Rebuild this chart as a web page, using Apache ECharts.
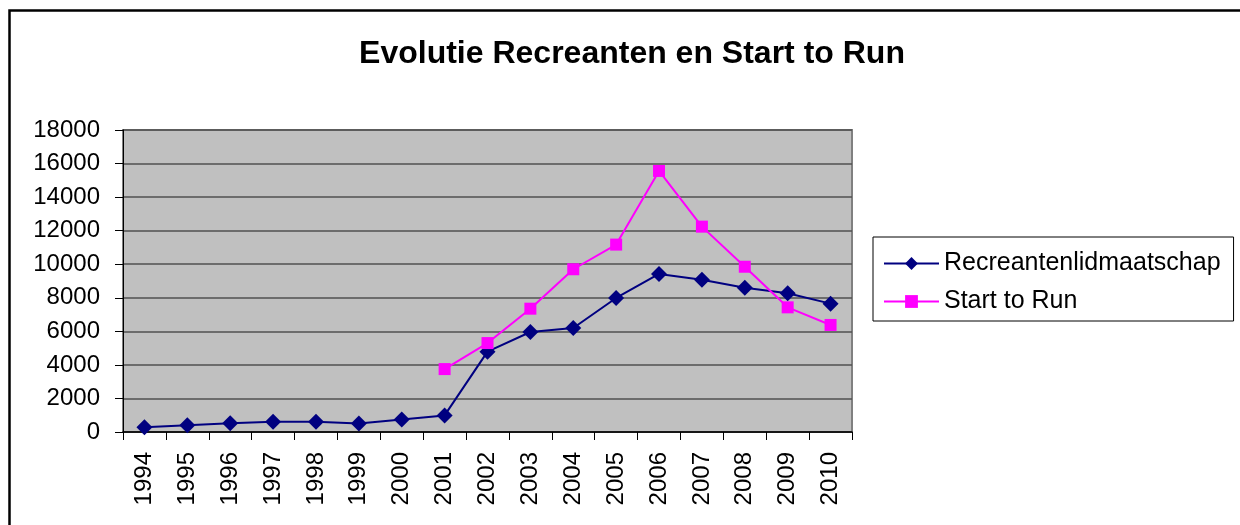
<!DOCTYPE html>
<html>
<head>
<meta charset="utf-8">
<script src="https://cdn.jsdelivr.net/npm/echarts@6/dist/echarts.min.js"></script>
<style>
html,body{margin:0;padding:0;background:#fff;}
#chart{width:1240px;height:525px;}
</style>
</head>
<body>
<div id="chart"></div>
<script>
const years = ['1994','1995','1996','1997','1998','1999','2000','2001','2002','2003','2004','2005','2006','2007','2008','2009','2010'];
const recreanten = [280, 400, 520, 610, 610, 500, 740, 990, 4790, 5960, 6200, 7990, 9420, 9080, 8600, 8270, 7650];
const startToRun = [null, null, null, null, null, null, null, 3750, 5300, 7350, 9700, 11170, 15560, 12240, 9850, 7430, 6380];
const yTicks = { min: 0, max: 18000, interval: 2000 };
const titleText = 'Evolutie Recreanten en Start to Run';
const seriesNames = ['Recreantenlidmaatschap', 'Start to Run'];

const font = '"Liberation Sans", Arial, sans-serif';
const chart = echarts.init(document.getElementById('chart'), null, { renderer: 'canvas' });
chart.setOption({
  animation: false,
  backgroundColor: '#ffffff',
  title: {
    text: titleText,
    left: 627,
    textAlign: 'center',
    top: 33,
    textStyle: { fontFamily: font, fontSize: 32, fontWeight: 'bold', color: '#000' }
  },
  legend: {
    orient: 'vertical',
    left: 873,
    top: 237,
    padding: [14, 13, 7, 10],
    itemGap: 13,
    itemWidth: 55,
    itemHeight: 16,
    borderColor: '#000',
    borderWidth: 1,
    backgroundColor: '#fff',
    textStyle: { fontFamily: font, fontSize: 25, color: '#000' },
    data: seriesNames
  },
  grid: {
    left: 123, right: 388, top: 130, bottom: 93,
    show: true,
    backgroundColor: '#c0c0c0',
    borderColor: '#808080',
    borderWidth: 2
  },
  xAxis: {
    type: 'category',
    data: years,
    boundaryGap: true,
    axisLine: { lineStyle: { color: '#000', width: 1.5 } },
    axisTick: { show: true, length: 8, lineStyle: { color: '#000' } },
    axisLabel: { rotate: 90, margin: 20, fontFamily: font, fontSize: 24, color: '#000' },
    splitLine: { show: false }
  },
  yAxis: {
    type: 'value',
    min: yTicks.min, max: yTicks.max, interval: yTicks.interval,
    axisLine: { show: true, lineStyle: { color: '#000', width: 1 } },
    axisTick: { show: true, length: 8, lineStyle: { color: '#000' } },
    axisLabel: { margin: 23, fontFamily: font, fontSize: 24, color: '#000', formatter: function (v) { return String(v); } },
    splitLine: { show: true, lineStyle: { color: '#505050', width: 1.5 } }
  },
  series: [
    {
      name: seriesNames[0],
      type: 'line',
      data: recreanten,
      symbol: 'diamond',
      symbolSize: 16,
      color: '#000080',
      lineStyle: { color: '#000080', width: 2 },
      itemStyle: { color: '#000080' }
    },
    {
      name: seriesNames[1],
      type: 'line',
      data: startToRun,
      symbol: 'rect',
      symbolSize: 12,
      connectNulls: false,
      color: '#ff00ff',
      lineStyle: { color: '#ff00ff', width: 2 },
      itemStyle: { color: '#ff00ff' }
    }
  ],
  graphic: [
    {
      type: 'rect',
      silent: true,
      z: 100,
      shape: { x: 9.5, y: 10.5, width: 1300, height: 600 },
      style: { fill: null, stroke: '#000', lineWidth: 2.5 }
    }
  ]
});
</script>
</body>
</html>
